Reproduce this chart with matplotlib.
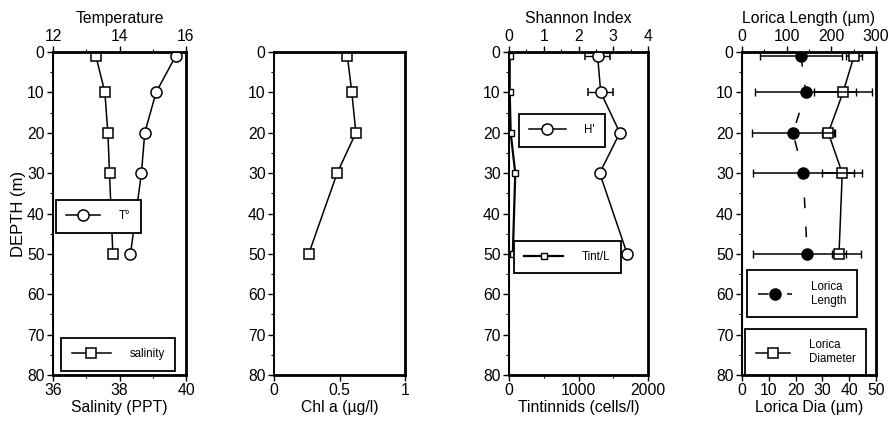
#!/usr/bin/env python3
import matplotlib
matplotlib.use("Agg")
import matplotlib.pyplot as plt
from matplotlib.ticker import MultipleLocator

plt.rcParams["font.family"] = ["Liberation Sans", "DejaVu Sans"]
plt.rcParams["font.size"] = 11.3

# sampled depths (m)
depth = [1, 10, 20, 30, 50]

# panel 1
temperature = [15.69, 15.10, 14.76, 14.66, 14.33]
salinity = [37.29, 37.56, 37.65, 37.70, 37.80]

# panel 2
chl_a = [0.56, 0.594, 0.625, 0.482, 0.265]

# panel 3
shannon = [2.55, 2.64, 3.19, 2.61, 3.40]
shannon_err = [0.35, 0.36, 0.05, 0.05, 0.05]
tintinnids = [10, 10, 24, 90, 55]

# panel 4
lorica_length = [132, 143, 114, 137, 146]
lorica_length_err = [92, 113, 92, 113, 121]
lorica_dia = [41.8, 37.7, 32.2, 37.4, 36.2]
lorica_dia_err = [2.9, 10.9, 2.5, 7.5, 2.5]

W, H = 894, 429
panels_px = [(53, 186), (274, 405), (509, 648), (742, 876)]
top_px, bot_px = 52, 375

fig = plt.figure(figsize=(W / 100, H / 100), dpi=100)


def make_axes(x0, x1):
    ax = fig.add_axes([x0 / W, 1 - bot_px / H, (x1 - x0) / W, (bot_px - top_px) / H])
    ax.set_ylim(80, 0)
    ax.yaxis.set_major_locator(MultipleLocator(10))
    ax.yaxis.set_minor_locator(MultipleLocator(5))
    for s in ax.spines.values():
        s.set_linewidth(2.0)
    ax.spines["left"].set_linewidth(1.4)
    ax.tick_params(which="major", direction="out", length=4, width=1, pad=2)
    ax.tick_params(which="minor", direction="out", length=2, width=0.8)
    ax.tick_params(axis="y", which="both", right=False)
    return ax


def style_top(axt):
    axt.tick_params(which="major", direction="out", length=4, width=1, pad=2)
    axt.tick_params(which="minor", direction="out", length=2, width=0.8)
    axt.xaxis.set_label_position("top")


def box_legend(ax, center, fontsize=8.3, hl=3.2, handles=None, labels=None):
    if handles is None:
        handles, labels = ax.get_legend_handles_labels()
    leg = ax.legend(handles, labels, loc="center", bbox_to_anchor=center, frameon=True,
                    fancybox=False, edgecolor="black", framealpha=1, fontsize=fontsize,
                    handlelength=hl, borderpad=0.9, handletextpad=1.6, numpoints=1)
    leg.get_frame().set_linewidth(1.3)
    leg.set_zorder(20)
    return leg


sq = dict(marker="s", mfc="white", mec="black", ms=7, mew=1.1, color="black", lw=1.1)
ci = dict(marker="o", mfc="white", mec="black", ms=8, mew=1.1, color="black", lw=1.1)

# ---- panel 1: temperature / salinity
ax1 = make_axes(*panels_px[0])
ax1.plot(salinity, depth, label="salinity", **sq)
ax1.set_xlim(36, 40)
ax1.xaxis.set_major_locator(MultipleLocator(2))
ax1.xaxis.set_minor_locator(MultipleLocator(1))
ax1.set_xlabel("Salinity (PPT)", labelpad=1)
ax1.set_ylabel("DEPTH (m)", labelpad=1, fontsize=12)
ax1t = ax1.twiny()
ax1t.plot(temperature, depth, label="T°", **ci)
ax1t.set_xlim(12, 16)
ax1t.xaxis.set_major_locator(MultipleLocator(2))
ax1t.xaxis.set_minor_locator(MultipleLocator(1))
ax1t.set_xlabel("Temperature", labelpad=4)
style_top(ax1t)
box_legend(ax1t, (0.34, 0.491), hl=3.0)
box_legend(ax1, (0.49, 0.064), hl=3.4)

# ---- panel 2: chlorophyll a
ax2 = make_axes(*panels_px[1])
ax2.plot(chl_a, depth, **sq)
ax2.set_xlim(0, 1)
ax2.set_xticks([0, 0.5, 1])
ax2.set_xticklabels(["0", "0.5", "1"])
ax2.set_xlabel("Chl a (µg/l)", labelpad=1)

# ---- panel 3: tintinnids / Shannon index
ax3 = make_axes(*panels_px[2])
ax3.plot(tintinnids, depth, label="Tint/L", marker="s", mfc="white", mec="black",
         ms=5, mew=1.0, color="black", lw=1.6)
ax3.set_xlim(0, 2000)
ax3.xaxis.set_major_locator(MultipleLocator(1000))
ax3.xaxis.set_minor_locator(MultipleLocator(500))
ax3.set_xlabel("Tintinnids (cells/l)", labelpad=1)
ax3t = ax3.twiny()
ax3t.errorbar(shannon, depth, xerr=shannon_err, capsize=3, elinewidth=1, capthick=1,
              label="H'", **ci)
ax3t.set_xlim(0, 4)
ax3t.xaxis.set_major_locator(MultipleLocator(1))
ax3t.xaxis.set_minor_locator(MultipleLocator(0.5))
ax3t.set_xlabel("Shannon Index", labelpad=4)
style_top(ax3t)
h, l = ax3t.get_legend_handles_labels()
box_legend(ax3t, (0.38, 0.757), hl=3.2, handles=[h[0][0]], labels=l)
box_legend(ax3, (0.42, 0.365), hl=3.4)

# ---- panel 4: lorica size
ax4 = make_axes(*panels_px[3])
ax4.errorbar(lorica_dia, depth, xerr=lorica_dia_err, fmt="none", ecolor="black",
             elinewidth=1.1, capsize=3, capthick=1)
ax4.plot(lorica_dia, depth, label="Lorica\nDiameter", **sq)
ax4.set_xlim(0, 50)
ax4.xaxis.set_major_locator(MultipleLocator(10))
ax4.set_xlabel("Lorica Dia (µm)", labelpad=1)
ax4t = ax4.twiny()
ax4t.errorbar(lorica_length, depth, xerr=lorica_length_err, fmt="none", ecolor="black",
              elinewidth=1.1, capsize=3, capthick=1)
ax4t.plot(lorica_length, depth, label="Lorica\nLength", marker="o", mfc="black", mec="black",
          ms=8, color="black", lw=1.1, linestyle=(0, (7, 12)))
ax4t.set_xlim(0, 300)
ax4t.xaxis.set_major_locator(MultipleLocator(100))
ax4t.xaxis.set_minor_locator(MultipleLocator(50))
ax4t.set_xlabel("Lorica Length (µm)", labelpad=4)
style_top(ax4t)
box_legend(ax4t, (0.448, 0.252), hl=3.0)
box_legend(ax4, (0.474, 0.071), hl=3.0)

fig.savefig("out.png", dpi=100)
